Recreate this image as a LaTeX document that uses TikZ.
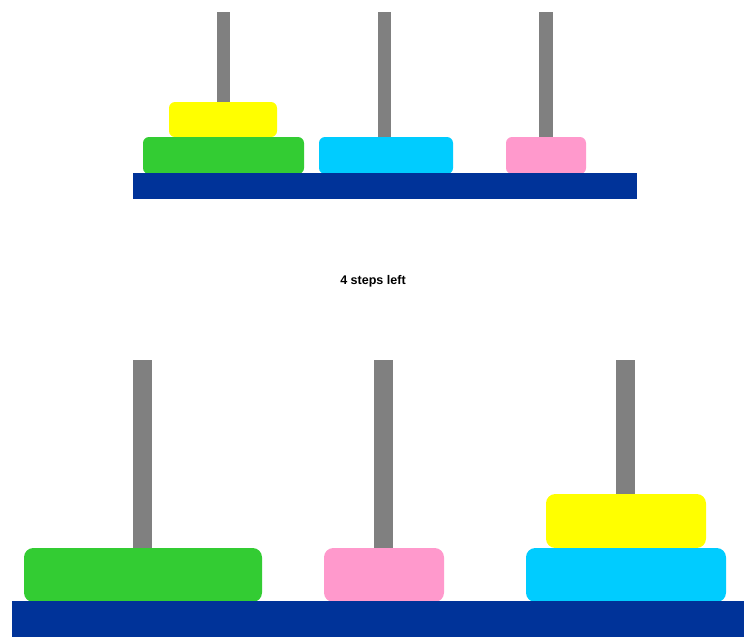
\documentclass[tikz,border=0pt]{standalone}
\usepackage{fontspec}
\setmainfont{Liberation Sans}
\definecolor{pole}{HTML}{808080}
\definecolor{dyellow}{HTML}{FFFF00}
\definecolor{dgreen}{HTML}{33CC33}
\definecolor{dcyan}{HTML}{00CCFF}
\definecolor{dpink}{HTML}{FF99CC}
\definecolor{dbase}{HTML}{003399}
\tikzset{
  polebar/.style={fill=pole},
  basebar/.style={fill=dbase},
  disksmall/.style={rounded corners=4.5pt},
  diskbig/.style={rounded corners=7pt},
}
\begin{document}
\begin{tikzpicture}[x=0.75pt,y=-0.75pt]
\useasboundingbox[fill=white] (0,0) rectangle (744,637);
% top tower
\fill[polebar] (217,12) rectangle (230,173);
\fill[polebar] (378,12) rectangle (391,173);
\fill[polebar] (539,12) rectangle (553,173);
\fill[dyellow,disksmall] (169,102) rectangle (277,137);
\fill[dgreen,disksmall] (143,137) rectangle (304,174);
\fill[dcyan,disksmall] (319,137) rectangle (453,174);
\fill[dpink,disksmall] (506,137) rectangle (586,174);
\fill[basebar] (133,173) rectangle (637,199);
% caption
\node[font=\bfseries\fontsize{9.4pt}{11pt}\selectfont] (caption) at (373,281) {4 steps left};
% bottom tower
\fill[polebar] (133,360) rectangle (152,601);
\fill[polebar] (374,360) rectangle (393,601);
\fill[polebar] (616,360) rectangle (635,601);
\fill[dyellow,diskbig] (546,494) rectangle (706,548);
\fill[dgreen,diskbig] (24,548) rectangle (262,602);
\fill[dpink,diskbig] (324,548) rectangle (444,602);
\fill[dcyan,diskbig] (526,548) rectangle (726,602);
\fill[basebar] (12,601) rectangle (744,637);
\end{tikzpicture}
\end{document}
